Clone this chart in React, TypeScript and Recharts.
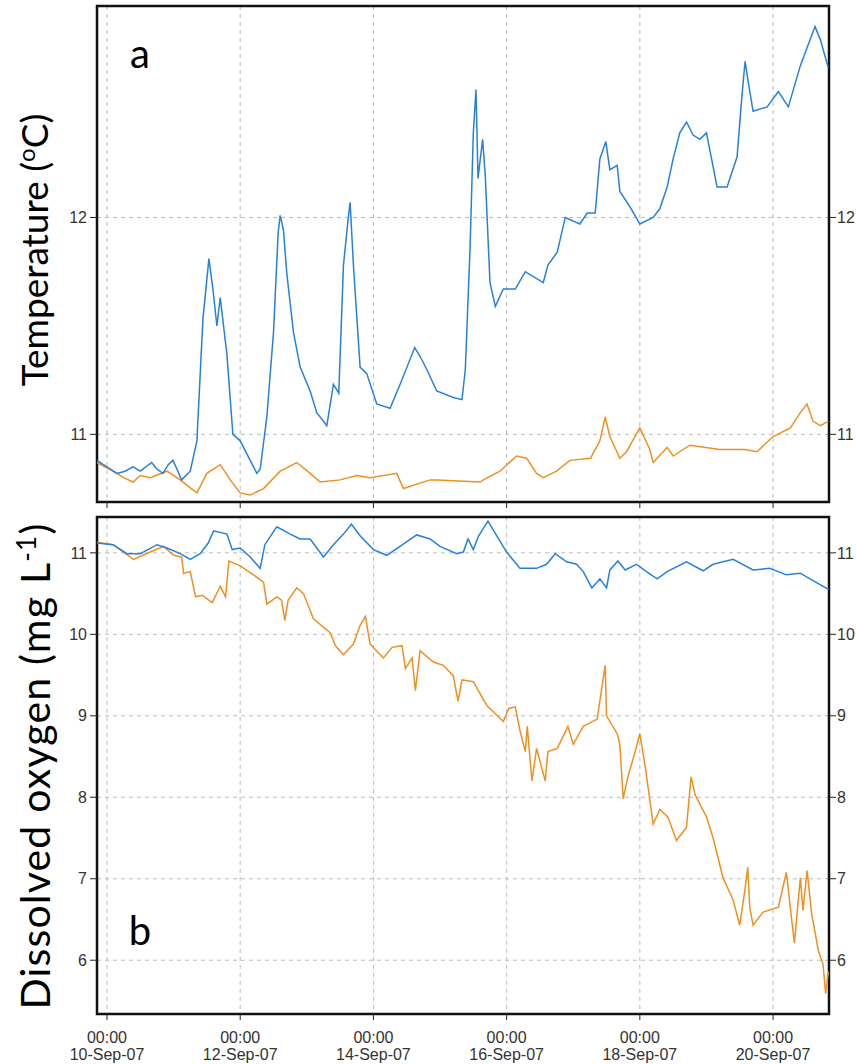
import React from "react";
import {
  LineChart,
  Line,
  XAxis,
  YAxis,
  CartesianGrid,
  ReferenceArea,
} from "recharts";

// time is in days after 10-Sep-07 00:00
const dayTicks = [0, 2, 4, 6, 8, 10];
const dayLabels = ["10-Sep-07", "12-Sep-07", "14-Sep-07", "16-Sep-07", "18-Sep-07", "20-Sep-07"];
const tempTicks = [11, 12];
const doTicks = [6, 7, 8, 9, 10, 11];

const tempBlue: [number, number][] = [
  [-0.15, 10.88], [0.05, 10.84], [0.15, 10.82], [0.27, 10.83], [0.39, 10.85], [0.5, 10.83],
  [0.67, 10.87], [0.75, 10.84], [0.84, 10.82], [0.92, 10.86], [0.99, 10.88], [1.05, 10.84],
  [1.12, 10.79], [1.25, 10.83], [1.35, 10.97], [1.44, 11.53], [1.53, 11.81], [1.59, 11.67],
  [1.65, 11.5], [1.7, 11.63], [1.8, 11.37], [1.89, 11.0], [2.0, 10.97], [2.1, 10.91],
  [2.25, 10.82], [2.3, 10.84], [2.4, 11.08], [2.5, 11.47], [2.57, 11.93], [2.6, 12.01],
  [2.65, 11.94], [2.7, 11.74], [2.8, 11.47], [2.9, 11.31], [3.05, 11.2], [3.15, 11.1],
  [3.3, 11.04], [3.4, 11.23], [3.48, 11.19], [3.55, 11.78], [3.62, 11.99], [3.65, 12.07],
  [3.7, 11.78], [3.8, 11.31], [3.9, 11.28], [4.05, 11.14], [4.25, 11.12], [4.4, 11.23],
  [4.62, 11.4], [4.7, 11.36], [4.8, 11.3], [4.95, 11.2], [5.2, 11.17], [5.33, 11.16],
  [5.38, 11.3], [5.45, 11.85], [5.5, 12.39], [5.54, 12.59], [5.57, 12.18], [5.64, 12.36],
  [5.68, 12.19], [5.75, 11.7], [5.83, 11.59], [5.95, 11.67], [6.13, 11.67], [6.28, 11.75],
  [6.55, 11.7], [6.62, 11.78], [6.76, 11.84], [6.88, 12.0], [7.1, 11.97], [7.21, 12.02],
  [7.33, 12.02], [7.4, 12.27], [7.49, 12.35], [7.55, 12.22], [7.66, 12.24], [7.7, 12.12],
  [7.85, 12.05], [8.0, 11.97], [8.2, 12.0], [8.3, 12.04], [8.41, 12.14], [8.5, 12.27],
  [8.6, 12.39], [8.7, 12.44], [8.8, 12.38], [8.9, 12.36], [9.0, 12.39], [9.16, 12.14],
  [9.31, 12.14], [9.46, 12.28], [9.53, 12.55], [9.58, 12.72], [9.63, 12.62], [9.7, 12.49],
  [9.91, 12.51], [10.08, 12.58], [10.23, 12.51], [10.41, 12.7], [10.63, 12.88], [10.71, 12.82],
  [10.83, 12.69],
];

const tempOrange: [number, number][] = [
  [-0.15, 10.87], [0.15, 10.82], [0.25, 10.8], [0.39, 10.78], [0.5, 10.81], [0.65, 10.8],
  [0.9, 10.83], [1.1, 10.79], [1.22, 10.76], [1.35, 10.73], [1.5, 10.82], [1.7, 10.86],
  [1.85, 10.79], [2.0, 10.73], [2.15, 10.72], [2.35, 10.75], [2.6, 10.83], [2.85, 10.87],
  [3.05, 10.82], [3.2, 10.78], [3.5, 10.79], [3.75, 10.81], [3.95, 10.8], [4.35, 10.82],
  [4.45, 10.75], [4.85, 10.79], [4.95, 10.79], [5.6, 10.78], [5.65, 10.79], [5.9, 10.83],
  [6.15, 10.9], [6.3, 10.89], [6.45, 10.82], [6.55, 10.8], [6.75, 10.83], [6.95, 10.88],
  [7.26, 10.89], [7.4, 10.97], [7.48, 11.08], [7.55, 10.99], [7.7, 10.89], [7.8, 10.92],
  [8.0, 11.03], [8.15, 10.93], [8.2, 10.87], [8.41, 10.94], [8.5, 10.9], [8.75, 10.95],
  [9.2, 10.93], [9.58, 10.93], [9.76, 10.92], [10.0, 10.99], [10.26, 11.03], [10.41, 11.1],
  [10.51, 11.14], [10.6, 11.06], [10.71, 11.04], [10.83, 11.06],
];

const doBlue: [number, number][] = [
  [-0.15, 11.12], [0.09, 11.1], [0.3, 10.99], [0.5, 10.99], [0.75, 11.1], [0.9, 11.06],
  [1.1, 10.99], [1.25, 10.92], [1.4, 10.99], [1.52, 11.12], [1.6, 11.27], [1.8, 11.23],
  [1.88, 11.04], [2.0, 11.06], [2.15, 10.95], [2.3, 10.81], [2.37, 11.1], [2.5, 11.26],
  [2.55, 11.32], [2.75, 11.23], [2.9, 11.17], [3.05, 11.17], [3.25, 10.95], [3.4, 11.1],
  [3.55, 11.23], [3.67, 11.35], [3.8, 11.21], [4.0, 11.04], [4.2, 10.97], [4.4, 11.08],
  [4.65, 11.22], [4.85, 11.17], [5.0, 11.08], [5.25, 10.99], [5.35, 11.01], [5.42, 11.17],
  [5.5, 11.04], [5.58, 11.21], [5.72, 11.39], [5.85, 11.21], [6.0, 11.01], [6.2, 10.81],
  [6.45, 10.81], [6.6, 10.86], [6.73, 10.99], [6.9, 10.89], [7.05, 10.86], [7.15, 10.77],
  [7.28, 10.57], [7.4, 10.68], [7.5, 10.57], [7.55, 10.79], [7.67, 10.9], [7.78, 10.79],
  [7.95, 10.86], [8.1, 10.77], [8.26, 10.68], [8.41, 10.77], [8.7, 10.89], [8.95, 10.78],
  [9.1, 10.86], [9.4, 10.92], [9.7, 10.79], [9.95, 10.81], [10.2, 10.73], [10.41, 10.75],
  [10.6, 10.66], [10.84, 10.55],
];

const doOrange: [number, number][] = [
  [-0.15, 11.13], [0.09, 11.1], [0.4, 10.92], [0.65, 11.01], [0.85, 11.08], [1.0, 10.97],
  [1.12, 10.95], [1.15, 10.75], [1.25, 10.77], [1.33, 10.46], [1.43, 10.48], [1.58, 10.39],
  [1.7, 10.59], [1.78, 10.46], [1.83, 10.9], [2.0, 10.84], [2.2, 10.73], [2.35, 10.64],
  [2.4, 10.37], [2.55, 10.46], [2.62, 10.42], [2.67, 10.17], [2.72, 10.42], [2.85, 10.57],
  [2.95, 10.5], [3.1, 10.19], [3.35, 10.02], [3.43, 9.86], [3.55, 9.75], [3.7, 9.88],
  [3.8, 10.11], [3.88, 10.22], [3.95, 9.88], [4.15, 9.71], [4.28, 9.84], [4.43, 9.86],
  [4.48, 9.58], [4.58, 9.71], [4.63, 9.31], [4.7, 9.8], [4.9, 9.66], [5.05, 9.62],
  [5.2, 9.49], [5.27, 9.18], [5.33, 9.44], [5.5, 9.42], [5.7, 9.13], [5.95, 8.93],
  [6.03, 9.09], [6.13, 9.11], [6.2, 8.82], [6.28, 8.56], [6.31, 8.87], [6.38, 8.2],
  [6.45, 8.6], [6.58, 8.2], [6.62, 8.56], [6.76, 8.6], [6.92, 8.87], [7.0, 8.65],
  [7.15, 8.87], [7.36, 8.96], [7.43, 9.35], [7.48, 9.62], [7.5, 9.0], [7.66, 8.78],
  [7.7, 8.65], [7.75, 7.98], [7.82, 8.25], [7.93, 8.56], [8.0, 8.78], [8.08, 8.38],
  [8.2, 7.67], [8.3, 7.85], [8.42, 7.76], [8.55, 7.47], [8.7, 7.63], [8.77, 8.25],
  [8.83, 8.03], [9.0, 7.76], [9.1, 7.5], [9.25, 7.01], [9.4, 6.74], [9.5, 6.43],
  [9.58, 6.88], [9.62, 7.14], [9.65, 6.65], [9.7, 6.43], [9.85, 6.59], [10.08, 6.65],
  [10.2, 7.08], [10.27, 6.57], [10.32, 6.21], [10.41, 7.01], [10.45, 6.61], [10.51, 7.1],
  [10.58, 6.57], [10.68, 6.12], [10.75, 5.95], [10.79, 5.59], [10.83, 5.86],
];

const toRows = (pts: [number, number][]) => pts.map(([t, v]) => ({ t, v }));

const xDomain: [number, number] = [-0.15, 10.84];
const tempDomain: [number, number] = [10.688, 12.975];
const doDomain: [number, number] = [5.34, 11.44];

const BLUE = "#2680dc";
const ORANGE = "#ef8f22";
const tickFont = { fontFamily: "Liberation Sans, Arial, sans-serif", fontSize: 16, fill: "#333" };

const DateTick = (props: any) => {
  const { x, y, payload } = props;
  const i = dayTicks.indexOf(payload.value);
  return (
    <text x={x} textAnchor="middle" {...tickFont}>
      <tspan x={x} y={y + 21}>00:00</tspan>
      <tspan x={x} y={y + 38}>{dayLabels[i]}</tspan>
    </text>
  );
};

const titleStyle: React.CSSProperties = {
  position: "absolute",
  fontFamily: "Lato, sans-serif",
  color: "#000",
  whiteSpace: "nowrap",
  lineHeight: 1,
  transform: "translate(-50%, -50%) rotate(-90deg)",
};

const panelLetter: React.CSSProperties = {
  position: "absolute",
  fontFamily: "Lato, sans-serif",
  fontSize: 40,
  color: "#000",
  transform: "translate(-50%, -50%)",
};

const App = () => {
  return (
    <div style={{ position: "absolute", left: 0, top: 0, width: 856, height: 1064, background: "#fff" }}>
      <div style={{ position: "absolute", left: 0, top: 0 }}>
        <LineChart width={856} height={515} margin={{ top: 6, right: 0, left: 0, bottom: 0 }}>
          <CartesianGrid yAxisId="l" stroke="#bbb" strokeDasharray="4 4" />
          <XAxis
            dataKey="t"
            type="number"
            domain={xDomain}
            ticks={dayTicks}
            allowDataOverflow
            height={13}
            tickSize={6}
            axisLine={false}
            tickLine={{ stroke: "#222" }}
            tick={() => <g />}
          />
          <YAxis yAxisId="l" domain={tempDomain} ticks={tempTicks} allowDataOverflow width={97}
            tickSize={7} tickMargin={3} axisLine={false} tickLine={{ stroke: "#222" }} tick={tickFont} />
          <YAxis yAxisId="r" orientation="right" domain={tempDomain} ticks={tempTicks} allowDataOverflow width={27}
            tickSize={7} tickMargin={1} axisLine={false} tickLine={{ stroke: "#222" }} tick={{ ...tickFont, textAnchor: "start" }} />
          <Line yAxisId="l" data={toRows(tempOrange)} dataKey="v" stroke={ORANGE} strokeWidth={1.5} dot={false} isAnimationActive={false} />
          <Line yAxisId="l" data={toRows(tempBlue)} dataKey="v" stroke={BLUE} strokeWidth={1.5} dot={false} isAnimationActive={false} />
          <ReferenceArea yAxisId="l" x1={xDomain[0]} x2={xDomain[1]} y1={tempDomain[0]} y2={tempDomain[1]}
            fill="none" stroke="#111" strokeWidth={2.5} ifOverflow="visible" />
        </LineChart>
      </div>
      <div style={{ position: "absolute", left: 0, top: 515 }}>
        <LineChart width={856} height={549} margin={{ top: 2, right: 0, left: 0, bottom: 0 }}>
          <CartesianGrid yAxisId="l" stroke="#bbb" strokeDasharray="4 4" />
          <XAxis
            dataKey="t"
            type="number"
            domain={xDomain}
            ticks={dayTicks}
            allowDataOverflow
            height={50}
            tickSize={6}
            axisLine={false}
            tickLine={{ stroke: "#222" }}
            tick={<DateTick />}
          />
          <YAxis yAxisId="l" domain={doDomain} ticks={doTicks} allowDataOverflow width={97}
            tickSize={7} tickMargin={3} axisLine={false} tickLine={{ stroke: "#222" }} tick={tickFont} />
          <YAxis yAxisId="r" orientation="right" domain={doDomain} ticks={doTicks} allowDataOverflow width={27}
            tickSize={7} tickMargin={1} axisLine={false} tickLine={{ stroke: "#222" }} tick={{ ...tickFont, textAnchor: "start" }} />
          <Line yAxisId="l" data={toRows(doOrange)} dataKey="v" stroke={ORANGE} strokeWidth={1.5} dot={false} isAnimationActive={false} />
          <Line yAxisId="l" data={toRows(doBlue)} dataKey="v" stroke={BLUE} strokeWidth={1.5} dot={false} isAnimationActive={false} />
          <ReferenceArea yAxisId="l" x1={xDomain[0]} x2={xDomain[1]} y1={doDomain[0]} y2={doDomain[1]}
            fill="none" stroke="#111" strokeWidth={2.5} ifOverflow="visible" />
        </LineChart>
      </div>

      <div style={{ ...titleStyle, fontSize: 37, left: 33, top: 250 }}>
        Temperature (<span style={{ fontSize: 24, verticalAlign: "super" }}>o</span>C)
      </div>
      <div style={{ ...titleStyle, fontSize: 41, letterSpacing: 1.2, left: 34, top: 766 }}>
        Dissolved oxygen (mg L<span style={{ fontSize: 26, verticalAlign: "super" }}>-1</span>)
      </div>
      <div style={{ ...panelLetter, left: 140, top: 53 }}>a</div>
      <div style={{ ...panelLetter, left: 140, top: 930 }}>b</div>
    </div>
  );
};

export default App;
